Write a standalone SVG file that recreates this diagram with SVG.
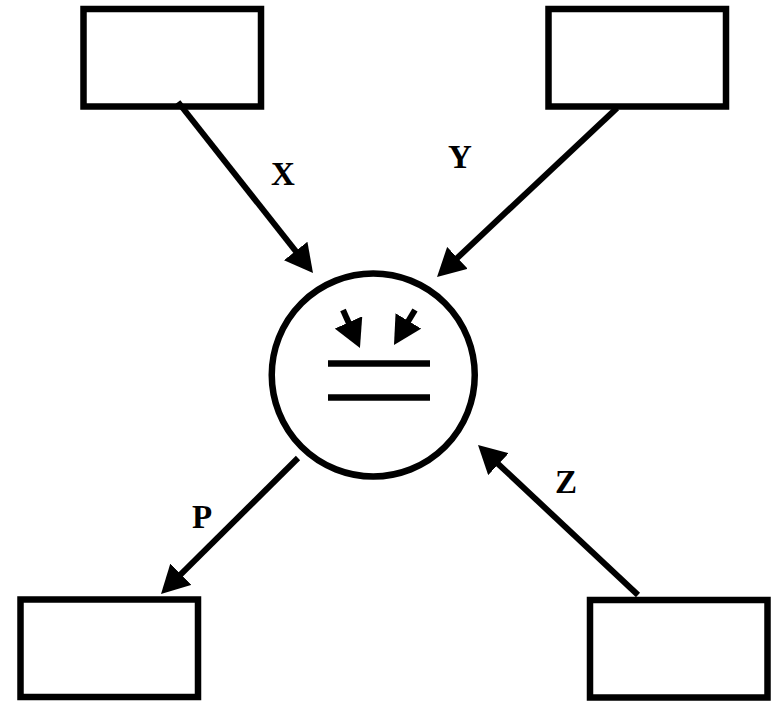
<svg xmlns="http://www.w3.org/2000/svg" width="772" height="701" viewBox="0 0 772 701">
<style>
.box{fill:#fff;stroke:#000;stroke-width:6.5}
.edge{stroke:#000;stroke-width:6;fill:none}
.lbl{font-family:"Liberation Serif",serif;font-weight:bold;font-size:33px;fill:#000;text-anchor:middle}
</style>
<defs>
<marker id="ah" viewBox="0 0 28 30" refX="8" refY="15" markerWidth="28" markerHeight="30" markerUnits="userSpaceOnUse" orient="auto">
<path d="M0,0 L28,15 L0,30 z" fill="#000"/>
</marker>
</defs>
<rect width="772" height="701" fill="#fff"/>
<g id="box-top-left"><rect class="box" x="83.5" y="9" width="177.5" height="97.5"/></g>
<g id="box-top-right"><rect class="box" x="548.5" y="9" width="177.5" height="97.5"/></g>
<g id="box-bottom-left"><rect class="box" x="20.5" y="599.5" width="177.5" height="97.5"/></g>
<g id="box-bottom-right"><rect class="box" x="590" y="600" width="177.5" height="97.5"/></g>
<g id="center">
<circle cx="373.25" cy="375" r="101.5" fill="#fff" stroke="#000" stroke-width="6.5"/>
<line x1="328" y1="363.5" x2="430" y2="363.5" stroke="#000" stroke-width="6.5"/>
<line x1="328" y1="397.5" x2="430" y2="397.5" stroke="#000" stroke-width="6.5"/>
<line class="edge" x1="343" y1="310" x2="351.8" y2="329.7" marker-end="url(#ah)"/>
<line class="edge" x1="415" y1="310" x2="404.3" y2="327.8" marker-end="url(#ah)"/>
</g>
<g id="connectors">
<line class="edge" x1="178" y1="102" x2="300.6" y2="257.3" marker-end="url(#ah)"/>
<line class="edge" x1="617" y1="108" x2="451.6" y2="263.3" marker-end="url(#ah)"/>
<line class="edge" x1="298" y1="458" x2="175.2" y2="579.9" marker-end="url(#ah)"/>
<line class="edge" x1="638" y1="595" x2="492.6" y2="458.7" marker-end="url(#ah)"/>
<text class="lbl" x="283" y="185">X</text>
<text class="lbl" x="460" y="168">Y</text>
<text class="lbl" x="202" y="528">P</text>
<text class="lbl" x="566" y="493">Z</text>
</g>
</svg>
